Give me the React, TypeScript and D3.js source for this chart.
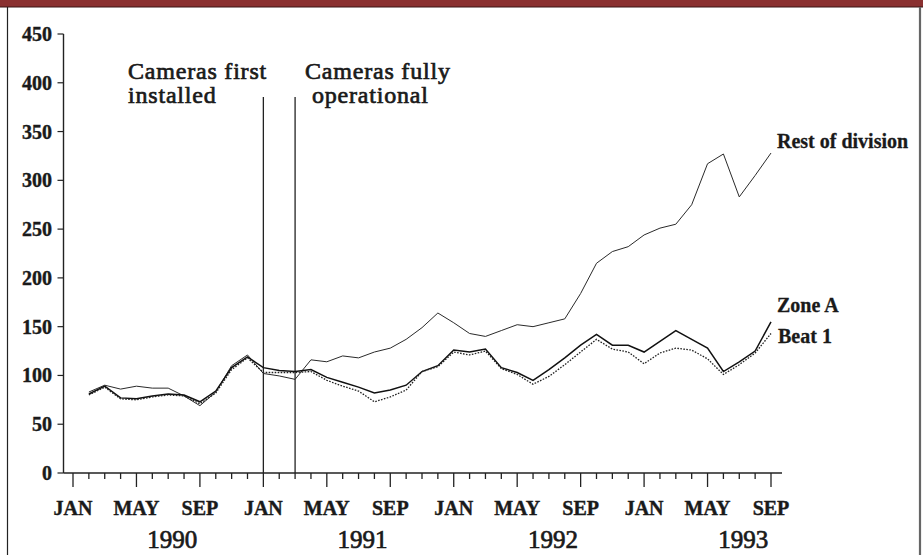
import React from 'react';
import * as d3 from 'd3';

// months counted from JAN 1990 (= 0); data runs FEB 1990 .. SEP 1993
const months = d3.range(1, 45);

const restOfDivision = [83, 90, 86, 89, 87, 87, 79, 69, 83, 110, 121, 102, 99.5, 96, 116, 114, 120, 118, 124, 128, 137, 149, 164, 154, 143, 140, 146, 152, 150, 154, 158, 184, 215, 227, 232, 244, 251, 255, 275, 317, 327, 283, 305, 328];
const zoneA = [81, 89, 77, 76, 79, 81, 80, 73, 84, 108, 119, 108, 105, 104, 106, 98, 93, 88, 82, 85, 90, 104, 110, 126, 124, 127, 108, 103, 95, 106, 118, 131, 142, 131, 131, 124, 135, 146, 137, 128, 104, 114, 125, 155];
const beat1 = [80, 88, 76, 75, 78, 80, 79, 71, 82, 106, 118, 103, 103, 103, 104, 95, 89, 84, 73, 78, 85, 104, 109, 124, 121, 125, 107, 101, 91, 99, 111, 124, 137, 127, 124, 112, 123, 128, 126, 117, 101, 111, 123, 143];

const yTicks = [0, 50, 100, 150, 200, 250, 300, 350, 400, 450];
const monthLabels = ['JAN', 'MAY', 'SEP'];
const years = ['1990', '1991', '1992', '1993'];
const cameraMonths = [12, 14];

const W = 923;
const H = 555;
const FONT = '"Liberation Serif", "Times New Roman", serif';

export default function App() {
  const x = d3.scaleLinear().domain([0, 44]).range([73, 771]);
  const y = d3.scaleLinear().domain([0, 450]).range([473, 34]);
  const axisX0 = 63.5;
  const axisY0 = y(0);

  const line = d3.line<number>()
    .x((d, i) => x(months[i]))
    .y(d => y(d));

  const allTicks = d3.range(0, 45);
  const end = x(44);

  return (
    <svg width={W} height={H} style={{ position: 'absolute', left: 0, top: 0, background: '#fff' }} fontFamily={FONT}>
      {/* frame */}
      <rect x={0} y={0} width={W} height={7} fill="#8a3030" />
      <line x1={0} x2={W} y1={7} y2={7} stroke="#3a1414" strokeWidth={1} />
      <line x1={7.5} x2={7.5} y1={7} y2={H} stroke="#222" strokeWidth={1.2} />
      <line x1={920} x2={920} y1={7} y2={H} stroke="#666" strokeWidth={2.2} />

      {/* y axis */}
      <line x1={axisX0} x2={axisX0} y1={y(450)} y2={axisY0} stroke="#222" strokeWidth={1.4} />
      {yTicks.map(t => (
        <g key={t}>
          <line x1={axisX0 - 6} x2={axisX0} y1={y(t)} y2={y(t)} stroke="#222" strokeWidth={1.2} />
          <text x={52} y={y(t)} dy="0.35em" textAnchor="end" fontSize={20} fontWeight="bold" fill="#1a1a1a" stroke="#1a1a1a" strokeWidth={0.4}>{t}</text>
        </g>
      ))}

      {/* x axis */}
      <line x1={axisX0} x2={782} y1={axisY0} y2={axisY0} stroke="#222" strokeWidth={1.4} />
      {allTicks.map(m => (
        <line key={m} x1={x(m)} x2={x(m)} y1={axisY0} y2={axisY0 + (m % 4 === 0 ? 14 : 6)} stroke="#222" strokeWidth={1.3} />
      ))}
      {allTicks.filter(m => m % 4 === 0).map(m => (
        <text key={m} x={x(m)} y={515} textAnchor="middle" fontSize={20} fontWeight="bold" fill="#1a1a1a" stroke="#1a1a1a" strokeWidth={0.4}>
          {monthLabels[(m / 4) % 3]}
        </text>
      ))}
      {years.map((yr, i) => (
        <text key={yr} x={x(6.25 + 12 * i)} y={548} textAnchor="middle" fontSize={25} fill="#1a1a1a" stroke="#1a1a1a" strokeWidth={0.7}>{yr}</text>
      ))}

      {/* camera markers */}
      {cameraMonths.map(m => (
        <line key={m} x1={x(m)} x2={x(m)} y1={97} y2={axisY0} stroke="#222" strokeWidth={1.3} />
      ))}
      <g fontSize={24} fill="#1a1a1a" stroke="#1a1a1a" strokeWidth={0.7} letterSpacing={0.8}>
        <text x={128} y={79}>Cameras first</text>
        <text x={128} y={103}>installed</text>
        <text x={305} y={79}>Cameras fully</text>
        <text x={312} y={103}>operational</text>
      </g>

      {/* series */}
      <path d={line(restOfDivision) || ''} fill="none" stroke="#2a2a2a" strokeWidth={1} />
      <path d={line(zoneA) || ''} fill="none" stroke="#111" strokeWidth={1.5} />
      <path d={line(beat1) || ''} fill="none" stroke="#222" strokeWidth={1.3} strokeDasharray="1.6,1.4" />

      {/* series labels */}
      <g fontSize={20} fontWeight="bold" fill="#1a1a1a" stroke="#1a1a1a" strokeWidth={0.3}>
        <text x={end + 6} y={y(328) - 5}>Rest of division</text>
        <text x={end + 6} y={y(155) - 10}>Zone A</text>
        <text x={end + 7} y={y(143) + 9.5}>Beat 1</text>
      </g>
    </svg>
  );
}
